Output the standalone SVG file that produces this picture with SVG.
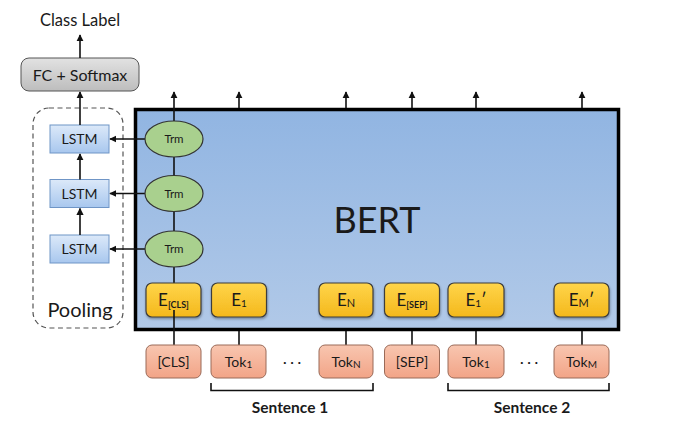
<svg xmlns="http://www.w3.org/2000/svg" width="674" height="428" viewBox="0 0 674 428">
  <style>
    text { font-family: Lato, "Liberation Sans", sans-serif; fill: #1a1a1a; }
    .lstm { fill: url(#gLstm); stroke: #6f95c6; stroke-width: 1; }
    .trm { fill: #a9d08e; stroke: #333; stroke-width: 1.2; }
    .emb { fill: url(#gEmb); stroke: #3c3c3c; stroke-width: 1.2; filter: url(#shadow); }
    .tok { fill: url(#gTok); stroke: #9a6a58; stroke-width: 1; }
    .line { stroke: #111; stroke-width: 1.6; fill: none; }
    .arrow { stroke: #111; stroke-width: 1.6; fill: none; marker-end: url(#head); }
    .lbl { font-size: 14px; text-anchor: middle; }
    .elbl { font-size: 17px; text-anchor: middle; }
    .trmlbl { font-size: 11.5px; text-anchor: middle; }
    .sent { font-size: 15.5px; font-weight: bold; text-anchor: middle; }
  </style>
  <defs>
    <marker id="head" viewBox="0 0 10 10" refX="9" refY="5" markerWidth="4.5" markerHeight="4.5" orient="auto">
      <path d="M0,0 L10,5 L0,10 z" fill="#111"/>
    </marker>
    <linearGradient id="gBert" x1="0" y1="0" x2="0" y2="1">
      <stop offset="0" stop-color="#91b5e2"/>
      <stop offset="1" stop-color="#b1c9e8"/>
    </linearGradient>
    <linearGradient id="gLstm" x1="0" y1="0" x2="0" y2="1">
      <stop offset="0" stop-color="#dce9f9"/>
      <stop offset="1" stop-color="#a8c7ee"/>
    </linearGradient>
    <linearGradient id="gEmb" x1="0" y1="0" x2="0" y2="1">
      <stop offset="0" stop-color="#ffd54a"/>
      <stop offset="1" stop-color="#f4b81c"/>
    </linearGradient>
    <linearGradient id="gTok" x1="0" y1="0" x2="0" y2="1">
      <stop offset="0" stop-color="#f8c6b0"/>
      <stop offset="1" stop-color="#f2a487"/>
    </linearGradient>
    <linearGradient id="gFc" x1="0" y1="0" x2="0" y2="1">
      <stop offset="0" stop-color="#e2e2e2"/>
      <stop offset="1" stop-color="#bdbdbd"/>
    </linearGradient>
    <filter id="shadow" x="-20%" y="-20%" width="140%" height="150%">
      <feDropShadow dx="0.5" dy="1.5" stdDeviation="1" flood-color="#000" flood-opacity="0.35"/>
    </filter>
  </defs>

  <!-- classifier head -->
  <g id="class-label">
    <text x="80" y="26" font-size="16.5" text-anchor="middle">Class Label</text>
  </g>
  <g id="fc-softmax">
    <rect x="21" y="58" width="118" height="33" rx="8" fill="url(#gFc)" stroke="#555" stroke-width="1"/>
    <text x="80" y="80.5" font-size="16" text-anchor="middle">FC + Softmax</text>
  </g>

  <!-- pooling block -->
  <g id="pooling">
    <rect x="33" y="108" width="90" height="220" rx="16" fill="none" stroke="#555" stroke-width="1.2" stroke-dasharray="5,3.5"/>
    <text x="80" y="317" font-size="20" text-anchor="middle">Pooling</text>
  </g>
  <g id="lstm1">
    <rect class="lstm" x="50" y="125" width="59" height="28"/>
    <text class="lbl" x="79.5" y="144">LSTM</text>
  </g>
  <g id="lstm2">
    <rect class="lstm" x="50" y="179.5" width="59" height="28"/>
    <text class="lbl" x="79.5" y="198.5">LSTM</text>
  </g>
  <g id="lstm3">
    <rect class="lstm" x="50" y="235" width="59" height="28"/>
    <text class="lbl" x="79.5" y="254">LSTM</text>
  </g>

  <!-- BERT encoder -->
  <g id="bert">
    <rect x="135.5" y="109.5" width="483" height="220" fill="url(#gBert)" stroke="#000" stroke-width="3.5"/>
    <text x="377" y="233" font-size="36" text-anchor="middle" fill="#000">BERT</text>
  </g>

  <!-- connectors -->
  <g id="connectors">
    <line class="arrow" x1="80" y1="58" x2="80" y2="35"/>
    <line class="arrow" x1="80" y1="125" x2="80" y2="92"/>
    <line class="arrow" x1="80" y1="179.5" x2="80" y2="154"/>
    <line class="arrow" x1="80" y1="235" x2="80" y2="208.5"/>
    <line class="arrow" x1="145" y1="139" x2="110" y2="139"/>
    <line class="arrow" x1="145" y1="193.5" x2="110" y2="193.5"/>
    <line class="arrow" x1="145" y1="249" x2="110" y2="249"/>
    <line class="line" x1="174" y1="157" x2="174" y2="176"/>
    <line class="line" x1="174" y1="211" x2="174" y2="231"/>
    <line class="line" x1="174" y1="267" x2="174" y2="283"/>
    <line class="arrow" x1="174" y1="121" x2="174" y2="92"/>
    <line class="arrow" x1="239" y1="108" x2="239" y2="92"/>
    <line class="arrow" x1="346" y1="108" x2="346" y2="92"/>
    <line class="arrow" x1="412" y1="108" x2="412" y2="92"/>
    <line class="arrow" x1="476" y1="108" x2="476" y2="92"/>
    <line class="arrow" x1="582" y1="108" x2="582" y2="92"/>
    <line class="line" x1="239" y1="331" x2="239" y2="345"/>
    <line class="line" x1="346" y1="331" x2="346" y2="345"/>
    <line class="line" x1="412" y1="331" x2="412" y2="345"/>
    <line class="line" x1="476" y1="331" x2="476" y2="345"/>
    <line class="line" x1="582" y1="331" x2="582" y2="345"/>
  </g>

  <!-- transformer cells -->
  <g id="trm1">
    <ellipse class="trm" cx="174" cy="139" rx="29" ry="18"/>
    <text class="trmlbl" x="174" y="143">Trm</text>
  </g>
  <g id="trm2">
    <ellipse class="trm" cx="174" cy="193.5" rx="29" ry="18"/>
    <text class="trmlbl" x="174" y="197.5">Trm</text>
  </g>
  <g id="trm3">
    <ellipse class="trm" cx="174" cy="249" rx="29" ry="18"/>
    <text class="trmlbl" x="174" y="253">Trm</text>
  </g>

  <!-- input embeddings -->
  <g id="e-cls">
    <rect class="emb" x="146" y="283" width="55" height="34" rx="6"/>
    <text class="elbl" x="173.5" y="306">E<tspan font-size="9" font-weight="bold" dy="2">[CLS]</tspan></text>
  </g>
  <g id="e-1">
    <rect class="emb" x="211.5" y="283" width="55" height="34" rx="6"/>
    <text class="elbl" x="239" y="306">E<tspan font-size="10" dy="1">1</tspan></text>
  </g>
  <g id="e-n">
    <rect class="emb" x="319" y="283" width="54" height="34" rx="6"/>
    <text class="elbl" x="346" y="306">E<tspan font-size="11" dy="1">N</tspan></text>
  </g>
  <g id="e-sep">
    <rect class="emb" x="384.5" y="283" width="55" height="34" rx="6"/>
    <text class="elbl" x="412" y="306">E<tspan font-size="9" font-weight="bold" dy="2">[SEP]</tspan></text>
  </g>
  <g id="e-1p">
    <rect class="emb" x="448" y="283" width="56" height="34" rx="6"/>
    <text class="elbl" x="476" y="306">E<tspan font-size="10" dy="1">1</tspan><tspan dy="-1">′</tspan></text>
  </g>
  <g id="e-mp">
    <rect class="emb" x="554" y="283" width="55" height="34" rx="6"/>
    <text class="elbl" x="581.5" y="306">E<tspan font-size="11" dy="1">M</tspan><tspan dy="-1">′</tspan></text>
  </g>
  <line class="line" x1="174" y1="310" x2="174" y2="345"/>

  <!-- input tokens -->
  <g id="tok-cls">
    <rect class="tok" x="146" y="345" width="55" height="33" rx="6"/>
    <text class="lbl" x="173.5" y="366.5">[CLS]</text>
  </g>
  <g id="tok-1">
    <rect class="tok" x="211" y="345" width="55" height="33" rx="6"/>
    <text class="lbl" x="238.5" y="366.5">Tok<tspan font-size="10" dy="1">1</tspan></text>
  </g>
  <g id="tok-n">
    <rect class="tok" x="319" y="345" width="54" height="33" rx="6"/>
    <text class="lbl" x="346" y="366.5">Tok<tspan font-size="10" dy="1">N</tspan></text>
  </g>
  <g id="tok-sep">
    <rect class="tok" x="384.5" y="345" width="55" height="33" rx="6"/>
    <text class="lbl" x="412" y="366.5">[SEP]</text>
  </g>
  <g id="tok-1b">
    <rect class="tok" x="448" y="345" width="56" height="33" rx="6"/>
    <text class="lbl" x="476" y="366.5">Tok<tspan font-size="10" dy="1">1</tspan></text>
  </g>
  <g id="tok-m">
    <rect class="tok" x="554" y="345" width="55" height="33" rx="6"/>
    <text class="lbl" x="581.5" y="366.5">Tok<tspan font-size="10" dy="1">M</tspan></text>
  </g>

  <!-- ellipses between tokens -->
  <text x="292" y="367" font-size="14" text-anchor="middle">· · ·</text>
  <text x="529" y="367" font-size="14" text-anchor="middle">· · ·</text>

  <!-- sentence brackets -->
  <g id="sentence1">
    <path class="line" d="M211,383 V390.5 H373 V383" stroke-width="1.4"/>
    <text class="sent" x="290" y="413">Sentence 1</text>
  </g>
  <g id="sentence2">
    <path class="line" d="M448,383 V390.5 H609 V383" stroke-width="1.4"/>
    <text class="sent" x="532" y="413">Sentence 2</text>
  </g>
</svg>
